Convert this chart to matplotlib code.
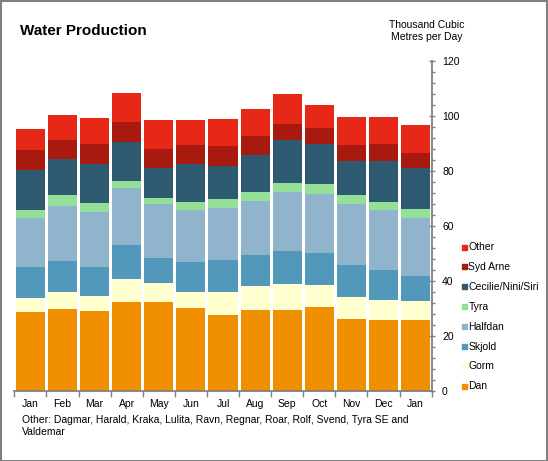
import matplotlib
matplotlib.use("Agg")
import matplotlib.pyplot as plt
from matplotlib.patches import Rectangle
from matplotlib.ticker import MultipleLocator
import numpy as np

plt.rcParams['font.family'] = ['Liberation Sans', 'DejaVu Sans']

months = ["Jan", "Feb", "Mar", "Apr", "May", "Jun", "Jul", "Aug", "Sep", "Oct", "Nov", "Dec", "Jan"]
series_names = ["Dan", "Gorm", "Skjold", "Halfdan", "Tyra", "Cecilie/Nini/Siri", "Syd Arne", "Other"]
dan     = [28.7, 29.8, 29.1, 32.4, 32.4, 30.2, 27.6, 29.5, 29.5, 30.5, 26.2, 25.8, 25.8]
gorm    = [5.1, 6.2, 5.4, 8.3, 6.9, 5.8, 8.4, 8.7, 9.4, 8.0, 8.0, 7.3, 6.9]
skjold  = [11.3, 11.3, 10.6, 12.4, 9.1, 10.9, 11.6, 11.3, 12.0, 11.7, 11.6, 10.9, 9.1]
halfdan = [17.8, 20.0, 20.0, 20.7, 19.6, 18.9, 18.9, 19.6, 21.5, 21.4, 22.2, 21.8, 21.1]
tyra    = [2.9, 4.0, 3.3, 2.6, 2.2, 2.9, 3.3, 3.3, 3.2, 3.7, 3.3, 2.9, 3.3]
cecilie = [14.6, 13.1, 14.1, 14.1, 10.9, 13.8, 12.2, 13.4, 15.7, 14.5, 12.2, 15.1, 14.9]
syd_arne = [7.2, 6.9, 7.3, 7.3, 6.9, 7.0, 7.1, 6.9, 5.8, 5.8, 5.8, 5.9, 5.4]
other   = [7.7, 9.1, 9.5, 10.6, 10.5, 9.0, 9.8, 9.8, 10.9, 8.4, 10.2, 9.8, 10.2]
series = [dan, gorm, skjold, halfdan, tyra, cecilie, syd_arne, other]
colors = ["#F09000", "#FFFFD0", "#5298BA", "#91B4CD", "#94E098", "#2D5A71", "#A8190F", "#E82817"]
yticks = [0, 20, 40, 60, 80, 100, 120]

W, H = 548, 461
fig = plt.figure(figsize=(W / 100, H / 100), dpi=100)
ax = fig.add_axes([14.3 / W, 1 - 391 / H, (431.7 - 14.3) / W, 330 / H])

x = np.arange(len(months))
bottom = np.zeros(len(months))
for vals, col, name in zip(series, colors, series_names):
    ax.bar(x, vals, bottom=bottom, width=0.905, color=col, label=name, linewidth=0)
    bottom += np.array(vals)

ax.set_xlim(-0.5, len(months) - 0.5)
ax.set_ylim(0, 120)
gray = "#808080"
for s in ["top", "left"]:
    ax.spines[s].set_visible(False)
for s in ["bottom", "right"]:
    ax.spines[s].set_color(gray)
    ax.spines[s].set_linewidth(1.3)

ax.yaxis.tick_right()
ax.set_yticks(yticks)
ax.set_yticklabels([str(v) for v in yticks])
ax.yaxis.set_minor_locator(MultipleLocator(4))
ax.tick_params(axis='y', which='major', direction='inout', length=5, width=1, color=gray,
               labelsize=7.5, pad=5)
ax.tick_params(axis='y', which='minor', direction='out', length=2.5, width=1, color=gray)

ax.set_xticks(x)
ax.set_xticklabels(months)
ax.tick_params(axis='x', which='major', length=0, labelsize=7.5, pad=6)
ax.set_xticks(np.arange(-0.5, len(months), 1), minor=True)
ax.tick_params(axis='x', which='minor', direction='out', length=4, width=1, color=gray)

# Title and units
fig.text(20 / W, 1 - 31 / H, "Water Production", fontsize=11, fontweight='bold', va='center', ha='left')
fig.text(427 / W, 1 - 31 / H, "Thousand Cubic\nMetres per Day", fontsize=7.5, ha='center', va='center',
         linespacing=1.15)

# Legend (manual)
for i, (name, col) in enumerate(zip(series_names[::-1], colors[::-1])):
    yc = 247 + i * 19.9
    fig.patches.append(Rectangle((462 / W, 1 - (yc + 2.5) / H), 5 / W, 5 / H, color=col,
                                 transform=fig.transFigure, figure=fig))
    fig.text(468.5 / W, 1 - yc / H, name, fontsize=7.5, va='center', ha='left')

# Footnote
fig.text(22 / W, 1 - 426 / H,
         "Other: Dagmar, Harald, Kraka, Lulita, Ravn, Regnar, Roar, Rolf, Svend, Tyra SE and\nValdemar",
         fontsize=7.5, va='center', ha='left', linespacing=1.15)

# Figure border
fig.patches.append(Rectangle((0.5 / W, 0.5 / H), (W - 1.5) / W, (H - 1.5) / H, fill=False,
                             edgecolor=gray, linewidth=1.5, transform=fig.transFigure, figure=fig))

fig.savefig("out.png", dpi=100)
